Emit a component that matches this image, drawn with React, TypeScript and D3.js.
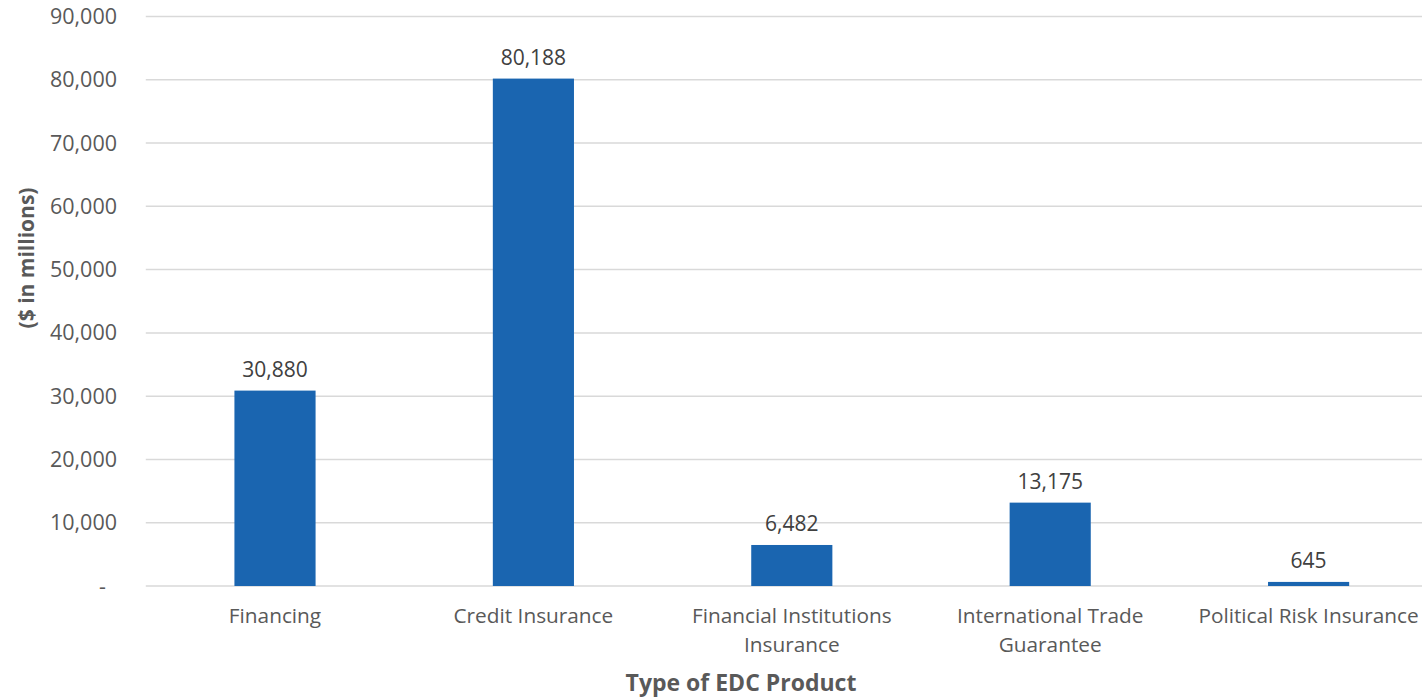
import React from "react";
import * as d3 from "d3";

const categories = [
  ["Financing"],
  ["Credit Insurance"],
  ["Financial Institutions", "Insurance"],
  ["International Trade", "Guarantee"],
  ["Political Risk Insurance"],
];
const values = [30880, 80188, 6482, 13175, 645];
const yTicks = [0, 10000, 20000, 30000, 40000, 50000, 60000, 70000, 80000, 90000];

const W = 1422;
const H = 698;
const FONT = "'Open Sans', sans-serif";

export default function App() {
  const left = 145.8;
  const right = 1437.8;
  const top = 16.5;
  const bottom = 586;
  const x = d3
    .scaleBand<number>()
    .domain(values.map((_, i) => i))
    .range([left, right])
    .paddingInner(0.686)
    .paddingOuter(0.343);
  const y = d3.scaleLinear().domain([0, 90000]).range([bottom, top]);
  const fmt = d3.format(",");
  return (
    <svg
      width={W}
      height={H}
      style={{ position: "absolute", left: 0, top: 0, background: "#fff" }}
    >
      {yTicks.map((t) => (
        <g key={t}>
          <line
            x1={left}
            x2={W}
            y1={y(t)}
            y2={y(t)}
            stroke="#d9d9d9"
            strokeWidth={1.5}
          />
          <text
            x={t === 0 ? 106 : 117}
            y={y(t)}
            dy="0.35em"
            textAnchor="end"
            fontFamily={FONT}
            fontSize={21.5}
            fill="#595959"
          >
            {t === 0 ? "-" : fmt(t)}
          </text>
        </g>
      ))}
      {values.map((v, i) => {
        const bx = x(i)!;
        const bw = x.bandwidth();
        const cx = bx + bw / 2;
        return (
          <g key={i}>
            <rect x={bx} y={y(v)} width={bw} height={bottom - y(v)} fill="#1a65b0" />
            <text
              x={cx}
              y={y(v) - 21}
              dy="0.35em"
              textAnchor="middle"
              fontFamily={FONT}
              fontSize={21}
              fill="#404040"
            >
              {fmt(v)}
            </text>
            {categories[i].map((line, j) => (
              <text
                key={j}
                x={cx}
                y={616 + j * 29}
                dy="0.35em"
                textAnchor="middle"
                fontFamily={FONT}
                fontSize={20.8}
                fill="#595959"
              >
                {line}
              </text>
            ))}
          </g>
        );
      })}
      <text
        x={741}
        y={683}
        dy="0.35em"
        textAnchor="middle"
        fontFamily={FONT}
        fontSize={23}
        fontWeight="bold"
        fill="#595959"
      >
        Type of EDC Product
      </text>
      <text
        transform={`translate(27,258) rotate(-90)`}
        dy="0.35em"
        textAnchor="middle"
        fontFamily={FONT}
        fontSize={21}
        fontWeight="bold"
        fill="#595959"
      >
        ($ in millions)
      </text>
    </svg>
  );
}
